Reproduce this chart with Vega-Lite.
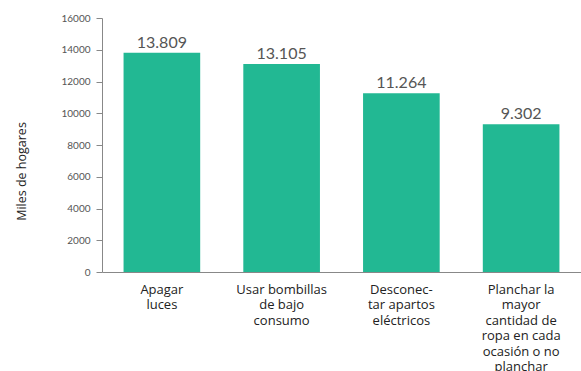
{
  "$schema": "https://vega.github.io/schema/vega-lite/v6.json",
  "autosize": "none",
  "width": 479,
  "height": 254,
  "padding": {"left": 102, "top": 18, "right": 0, "bottom": 99},
  "background": "white",
  "config": {"view": {"stroke": null}, "font": "Lato"},
  "data": {"values": [
    {"accion": "Apagar|luces", "hogares": 13809, "etiqueta": "13.809"},
    {"accion": "Usar bombillas|de bajo|consumo", "hogares": 13105, "etiqueta": "13.105"},
    {"accion": "Desconec-|tar apartos|eléctricos", "hogares": 11264, "etiqueta": "11.264"},
    {"accion": "Planchar la|mayor|cantidad de|ropa en cada|ocasión o no|planchar", "hogares": 9302, "etiqueta": "9.302"}
  ]},
  "encoding": {
    "x": {"field": "accion", "type": "nominal", "sort": null,
      "scale": {"paddingInner": 0.36, "paddingOuter": 0.18},
      "axis": {"title": null, "labelAngle": 0, "labelExpr": "split(datum.value, '|')",
        "labelFont": "Open Sans", "labelFontSize": 13, "labelColor": "#222", "labelLineHeight": 15.5, "labelPadding": 11,
        "ticks": false, "domainColor": "#888", "labelBaseline": "top"}},
    "y": {"field": "hogares", "type": "quantitative",
      "scale": {"domain": [0, 16000]},
      "axis": {"title": "Miles de hogares", "titleFont": "Open Sans", "titleFontSize": 12.5, "titleFontWeight": "normal", "titleColor": "#222", "titlePadding": 32, "titleY": 153,
        "values": [0, 2000, 4000, 6000, 8000, 10000, 12000, 14000, 16000], "format": "d",
        "grid": false, "labelFontSize": 10, "labelColor": "#555", "tickColor": "#888", "domainColor": "#888", "tickSize": 6, "labelPadding": 6}}
  },
  "layer": [
    {"mark": {"type": "bar", "color": "#22b893"}},
    {"mark": {"type": "text", "baseline": "bottom", "dy": -2, "fontSize": 16, "color": "#555"},
      "encoding": {"text": {"field": "etiqueta"}}}
  ]
}
